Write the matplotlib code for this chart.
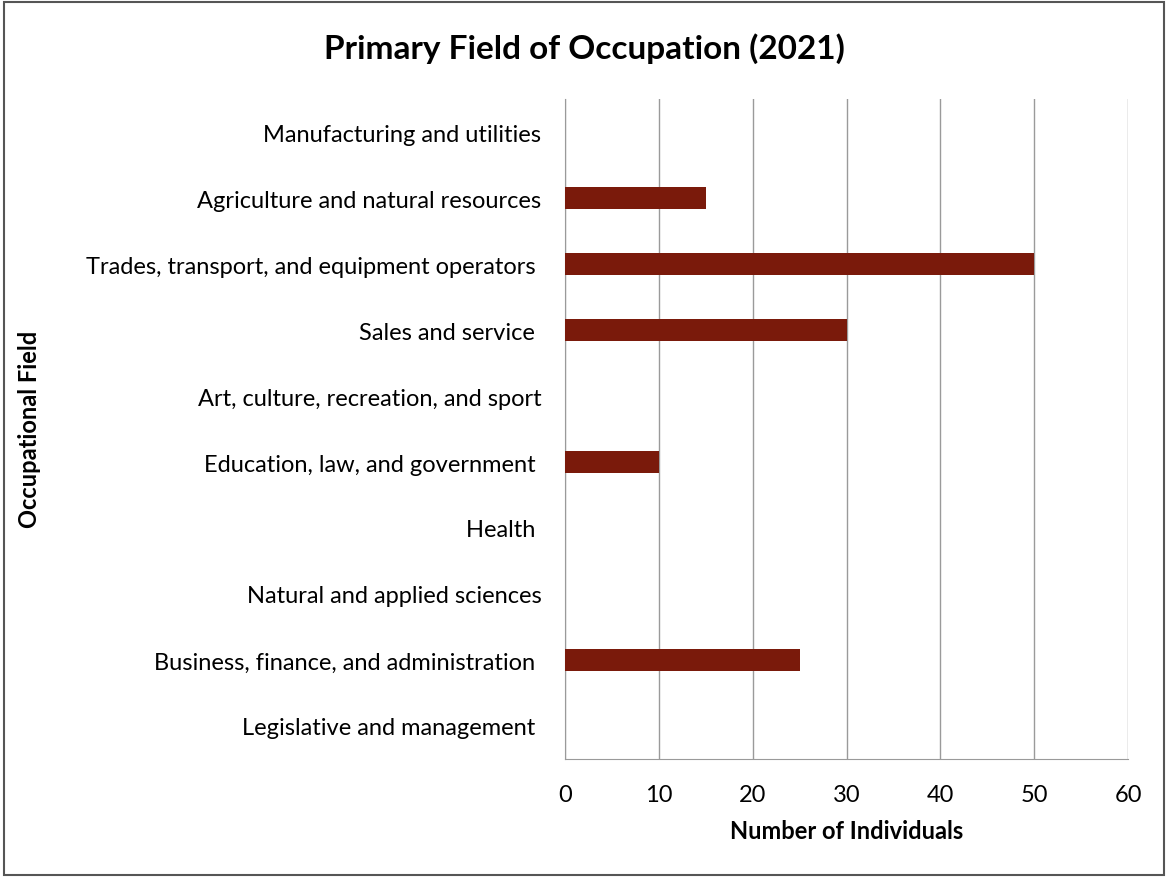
import matplotlib.pyplot as plt

plt.rcParams['font.family'] = ['Lato', 'DejaVu Sans']

# categories listed bottom to top
fields = ['Legislative and management ',
          'Business, finance, and administration ',
          'Natural and applied sciences',
          'Health ',
          'Education, law, and government ',
          'Art, culture, recreation, and sport',
          'Sales and service ',
          'Trades, transport, and equipment operators ',
          'Agriculture and natural resources',
          'Manufacturing and utilities']
counts = [0, 25, 0, 0, 10, 0, 30, 50, 15, 0]
xticks = [0, 10, 20, 30, 40, 50, 60]

fig = plt.figure(figsize=(11.68, 8.79), dpi=100)
ax = fig.add_axes([0.4837, 0.1354, 0.4821, 0.7508])

ax.barh(range(len(fields)), counts, height=0.33, color='#7a1a0b', zorder=3)
ax.set_xlim(0, 60)
ax.set_ylim(-0.5, len(fields) - 0.5)
ax.set_xticks(xticks)
ax.set_yticks(range(len(fields)))
ax.set_yticklabels(fields)
ax.grid(axis='x', color='#9a9a9a', linewidth=1.0, zorder=0)

for s in ['top', 'right']:
    ax.spines[s].set_visible(False)
ax.spines['left'].set_color('#9a9a9a')
ax.spines['bottom'].set_color('#9a9a9a')
ax.tick_params(axis='y', length=0, pad=17, labelsize=17)
ax.tick_params(axis='x', length=0, pad=18, labelsize=17)

ax.set_xlabel('Number of Individuals', fontsize=17, fontweight='bold', labelpad=10)
fig.text(0.025, 0.511, 'Occupational Field', rotation=90, fontsize=17,
         fontweight='bold', ha='center', va='center')
fig.text(0.5, 0.945, 'Primary Field of Occupation (2021)', fontsize=24,
         fontweight='bold', ha='center', va='center')

# border around the chart
fig.patches.append(plt.Rectangle((0.003, 0.003), 0.994, 0.994, transform=fig.transFigure,
                                 fill=False, edgecolor='#555555', linewidth=1.5))

fig.savefig('out.png', dpi=100)
